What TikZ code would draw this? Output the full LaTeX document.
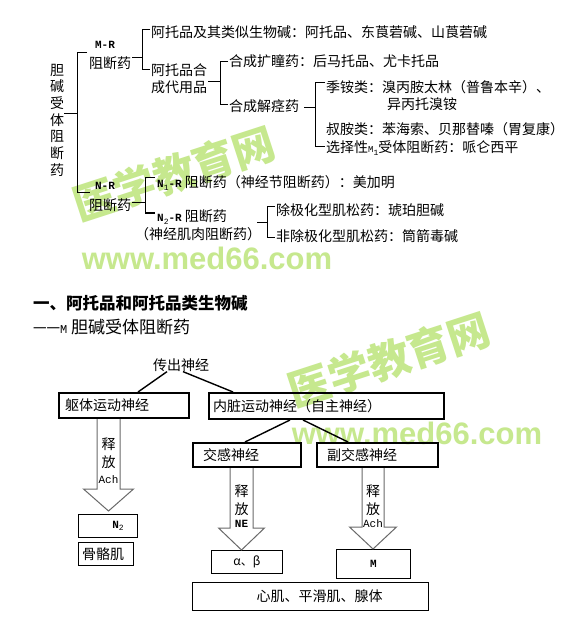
\documentclass[tikz,border=0pt]{standalone}
\usepackage{fontspec}
\setmainfont{Noto Sans CJK SC}
\newfontfamily\mono{Liberation Mono}
\newfontfamily\wmsans{Liberation Sans}
\usetikzlibrary{calc}
\definecolor{wmgreen}{RGB}{198,232,142}
\definecolor{arrgray}{RGB}{105,105,105}
\tikzset{
 txt/.style={inner sep=0pt, anchor=west, font=\fontsize{14}{17}\selectfont},
 ctxt/.style={inner sep=0pt, font=\fontsize{14}{17}\selectfont},
 lat/.style={inner sep=0pt, font=\mono\bfseries\fontsize{11}{12}\selectfont},
 br/.style={line width=1pt},
 ln/.style={line width=1.4pt},
 nbox/.style={draw, line width=2pt, inner sep=0pt, anchor=north west},
 sbox/.style={draw, line width=1pt, inner sep=0pt, anchor=north west},
 arr/.style={draw=arrgray, line width=1pt},
 wmcn/.style={text=wmgreen, font=\bfseries\fontsize{42}{42}\selectfont, rotate=18, inner sep=0pt},
 wmurl/.style={text=wmgreen, font=\wmsans\bfseries\fontsize{31}{31}\selectfont, inner sep=0pt},
}
\newcommand{\blockarr}[4]{%
 \draw[arr] ($(#1)+(-#3,0)$) -- ($(#2)+(-#3,-22)$) -- ($(#2)+(-#4,-22)$) -- (#2)
   -- ($(#2)+(#4,-22)$) -- ($(#2)+(#3,-22)$) -- ($(#1)+(#3,0)$);}
\newcommand{\sm}[1]{{\mono\bfseries\fontsize{11}{12}\selectfont #1}}
\newcommand{\subn}[1]{\raisebox{-2.5pt}{\mono\fontsize{8}{8}\selectfont #1}}
\begin{document}
\begin{tikzpicture}[x=1pt,y=-1pt]
\useasboundingbox[fill=white] (0,0) rectangle (572,620);
% watermarks
\node[wmcn] (wm1) at (174,174) {医学教育网};
\node[wmurl] (wu1) at (207,258) {www.med66.com};
\node[wmcn] (wm2) at (389,360) {医学教育网};
\node[wmurl] (wu2) at (417,433) {www.med66.com};

% ---------- top tree ----------
\node[ctxt, align=center, font=\fontsize{14}{16.7}\selectfont] (root) at (57,120) {胆\\碱\\受\\体\\阻\\断\\药};
\coordinate (b0) at (77,114);
\coordinate (b0t) at (77,53);
\coordinate (b0b) at (77,193);
\draw[br] (root.east |- b0) -- (b0);
\draw[br] ($(b0t)+(10,0)$) -- (b0t) -- (b0b) -- ($(b0b)+(13,0)$);

\node[lat] (mrlab) at (105,45) {M-R};
\node[ctxt] (mrz) at (110,63) {阻断药};
\coordinate (b1) at (142,58);
\coordinate (b1t) at (142,30);
\coordinate (b1b) at (142,70);
\draw[br] ($(mrz.east |- b1)+(1,0)$) -- (b1);
\draw[br] ($(b1t)+(8,0)$) -- (b1t) -- (b1b) -- ($(b1b)+(8,0)$);
\node[txt] (t1) at (151,32) {阿托品及其类似生物碱：阿托品、东莨菪碱、山莨菪碱};
\node[txt, align=left] (t2) at (151,78.5) {阿托品合\\成代用品};

\coordinate (b2) at (220,82);
\coordinate (b2t) at (220,62);
\coordinate (b2b) at (220,105);
\draw[br] ($(t2.east |- b2)+(1,0)$) -- (b2);
\draw[br] ($(b2t)+(8,0)$) -- (b2t) -- (b2b) -- ($(b2b)+(8,0)$);
\node[txt] (t3) at (229,61) {合成扩瞳药：后马托品、尤卡托品};
\node[txt] (t4) at (229,106) {合成解痉药};

\coordinate (b3) at (315,108);
\coordinate (b3t) at (315,83);
\coordinate (b3b) at (315,147);
\draw[br] ($(t4.east |- b3)+(5,0)$) -- (b3);
\draw[br] ($(b3t)+(10,0)$) -- (b3t) -- (b3b) -- ($(b3b)+(10,0)$);
\node[txt] (t5) at (326,87) {季铵类：溴丙胺太林（普鲁本辛）、};
\node[txt] (t5b) at (387,104) {异丙托溴铵};
\node[txt] (t6) at (326,129) {叔胺类：苯海索、贝那替嗪（胃复康）};
\node[txt] (t7) at (326,148) {选择性{\mono\fontsize{9}{9}\selectfont M}\subn{1}受体阻断药：哌仑西平};

\node[lat] (nrlab) at (105,186) {N-R};
\node[ctxt] (nrz) at (110,205) {阻断药};
\coordinate (b4) at (145,203);
\coordinate (b4t) at (145,178);
\coordinate (b4b) at (145,213);
\draw[br] ($(nrz.east |- b4)+(1,0)$) -- (b4);
\draw[br] ($(b4t)+(10,0)$) -- (b4t) -- (b4b) -- ($(b4b)+(10,0)$);
\node[txt] (t8) at (157,183) {\sm{N}\subn{1}\sm{-R} 阻断药（神经节阻断药）：美加明};
\node[txt] (t9) at (157,217) {\sm{N}\subn{2}\sm{-R} 阻断药};
\node[txt] (t9b) at (135,234) {（神经肌肉阻断药）};

\coordinate (b5) at (267,222);
\coordinate (b5t) at (267,207);
\coordinate (b5b) at (267,237);
\draw[br] ($(b5)+(-10,0)$) -- (b5);
\draw[br] ($(b5t)+(8,0)$) -- (b5t) -- (b5b) -- ($(b5b)+(8,0)$);
\node[txt] (t10) at (276,210) {除极化型肌松药：琥珀胆碱};
\node[txt] (t11) at (276,236) {非除极化型肌松药：筒箭毒碱};

% ---------- headings ----------
\node[inner sep=0pt, anchor=west, font=\bfseries\fontsize{16.5}{18}\selectfont] (h1) at (33,303) {一、阿托品和阿托品类生物碱};
\node[inner sep=0pt, anchor=west, font=\fontsize{17}{18}\selectfont] (h2) at (33,327) {{\fontsize{13.5}{16}\selectfont 一一}{\mono\fontsize{12}{12}\selectfont M} 胆碱受体阻断药};

% ---------- flow diagram ----------
\node[ctxt] (eff) at (181,365) {传出神经};
\node[nbox, minimum width=130pt, minimum height=25pt] (soma) at (58,392) {};
\node[txt] at ($(soma.west)+(7,0)$) {躯体运动神经};
\node[nbox, minimum width=235pt, minimum height=26pt] (visc) at (208,392) {};
\node[txt] at ($(visc.west)+(5,0)$) {内脏运动神经（自主神经）};
\node[nbox, minimum width=108pt, minimum height=24pt] (symp) at (192,442) {};
\node[txt] at ($(symp.west)+(11,0)$) {交感神经};
\node[nbox, minimum width=121pt, minimum height=24pt] (para) at (316,442) {};
\node[txt] at ($(para.west)+(11,0)$) {副交感神经};

\draw[ln] ($(eff.south)+(-14,0)$) -- ($(soma.north west)+(80,0)$);
\draw[ln] ($(eff.south)+(2,0)$) -- ($(visc.north west)+(25,0)$);
\draw[ln] ($(visc.south west)+(82,0)$) -- ($(symp.north west)+(53,0)$);
\draw[ln] ($(visc.south west)+(95,0)$) -- ($(para.north west)+(32,0)$);

\node[sbox, minimum width=59pt, minimum height=23pt] (n2) at (78,514) {};
\node[ctxt] at ($(n2.center)+(10,0)$) {\sm{N}\subn{2}};
\node[sbox, minimum width=55pt, minimum height=23pt] (skel) at (78,542) {};
\node[txt] at ($(skel.west)+(4,0)$) {骨骼肌};
\node[sbox, minimum width=71pt, minimum height=23pt] (ab) at (211,550) {};
\node[ctxt, font=\fontsize{12}{14}\selectfont] at (ab.center) {α、β};
\node[sbox, minimum width=74pt, minimum height=29pt] (mm) at (336,549) {};
\node[lat] at (mm.center) {M};
\node[sbox, minimum width=236pt, minimum height=28pt] (heart) at (192,582) {};
\node[ctxt] at ($(heart.center)+(9,0)$) {心肌、平滑肌、腺体};

% block arrows
\coordinate (a1t) at ($(soma.south west)+(50.5,0)$);
\coordinate (a1b) at ($(a1t |- n2.north)+(0,-3)$);
\blockarr{a1t}{a1b}{11.5}{25}
\node[ctxt] at ($(a1t)+(0,25)$) {释};
\node[ctxt] at ($(a1t)+(0,43)$) {放};
\node[lat, font=\mono\fontsize{11}{12}\selectfont] at ($(a1t)+(0,61)$) {Ach};

\coordinate (a2t) at ($(symp.south west)+(49.5,0)$);
\coordinate (a2b) at (a2t |- ab.north);
\blockarr{a2t}{a2b}{11.5}{23}
\node[ctxt] at ($(a2t)+(0,23)$) {释};
\node[ctxt] at ($(a2t)+(0,41)$) {放};
\node[lat] at ($(a2t)+(0,56)$) {NE};

\coordinate (a3t) at ($(para.south west)+(57,0)$);
\coordinate (a3b) at (a3t |- mm.north);
\blockarr{a3t}{a3b}{11}{23.5}
\node[ctxt] at ($(a3t)+(0,23)$) {释};
\node[ctxt] at ($(a3t)+(0,41)$) {放};
\node[lat, font=\mono\fontsize{11}{12}\selectfont] at ($(a3t)+(0,56)$) {Ach};
\end{tikzpicture}
\end{document}
